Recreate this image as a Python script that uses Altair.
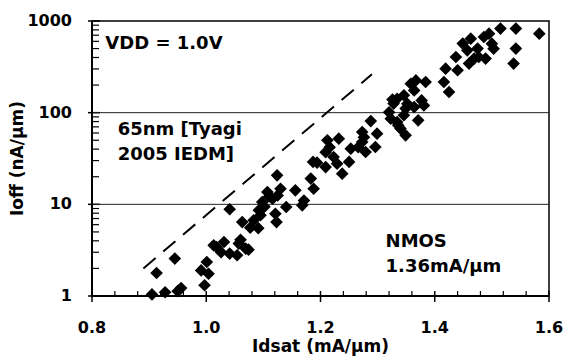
import altair as alt
import pandas as pd

# Measured devices (Idsat in mA/um, Ioff in nA/um)
idsat = [0.905, 0.913, 0.928, 0.945, 0.950, 0.956, 0.991, 0.997, 1.001, 1.004,
         1.013, 1.018, 1.026, 1.031, 1.041, 1.041, 1.054, 1.057, 1.060, 1.063,
         1.069, 1.074, 1.077, 1.083, 1.091, 1.092, 1.095, 1.098, 1.102, 1.107,
         1.110, 1.116, 1.121, 1.123, 1.124, 1.125, 1.130, 1.140, 1.156, 1.168,
         1.171, 1.183, 1.188, 1.187, 1.194,
         1.209, 1.209, 1.212, 1.216, 1.223, 1.229, 1.232, 1.238, 1.250, 1.253,
         1.266, 1.273, 1.273, 1.276, 1.279, 1.288, 1.296, 1.299,
         1.320, 1.323, 1.326, 1.328, 1.334, 1.334, 1.336, 1.340, 1.346, 1.346,
         1.349, 1.349, 1.352, 1.358, 1.364, 1.364, 1.367, 1.371, 1.377, 1.381,
         1.384,
         1.416, 1.419, 1.425, 1.437, 1.440, 1.449, 1.457, 1.460, 1.463, 1.469,
         1.475, 1.477, 1.486, 1.489, 1.495, 1.500, 1.503, 1.515, 1.538, 1.542,
         1.542, 1.583]
ioff = [1.04, 1.78, 1.10, 2.56, 1.13, 1.22, 1.90, 1.31, 2.35, 1.75,
        3.57, 3.42, 3.0, 3.88, 2.90, 8.83, 2.78, 3.73, 4.1, 6.4,
        3.29, 3.2, 5.57, 6.7, 5.5, 8.6, 7.6, 10.6, 9.4, 13.6,
        12.2, 11.5, 7.9, 6.4, 20.7, 12.5, 14.8, 9.35, 14.2, 9.76,
        11.0, 19.1, 14.8, 29.0, 28.5,
        25.5, 37.0, 50.0, 42.0, 32.8, 27.8, 52.0, 21.6, 29.0, 40.5,
        42.0, 47.9, 61.5, 54.0, 37.2, 81.0, 42.2, 59.0,
        101.0, 86.0, 139.0, 125.6, 79.0, 142.0, 72.8, 67.0, 93.6, 155.0,
        56.6, 111.0, 125.0, 207.0, 175.0, 115.0, 225.0, 82.5, 136.0, 120.0,
        216.0,
        216.0, 302.0, 168.0, 405.0, 290.0, 567.0, 479.0, 343.0, 642.0, 389.0,
        500.0, 405.0, 669.0, 389.0, 728.0, 566.0, 499.0, 826.0, 343.0, 826.0,
        500.0, 728.0]

# Dashed reference line (65nm, Tyagi 2005 IEDM)
ref_x = [0.89, 1.29]
ref_y = [2.0, 262.0]

# Annotations
note_text = ["VDD = 1.0V", "65nm [Tyagi", "2005 IEDM]", "NMOS", "1.36mA/\u00b5m"]
note_x = [0.8233, 0.8449, 0.8449, 1.3139, 1.3139]
note_y = [500.0, 56.6, 30.8, 3.42, 1.827]

# Axis titles
x_title = ["Idsat (mA/\u00b5m)"]
y_title = ["Ioff (nA/\u00b5m)"]

# Tick values
x_major = [0.8, 1.0, 1.2, 1.4, 1.6]
x_minor = [0.84, 0.88, 0.92, 0.96, 1.04, 1.08, 1.12, 1.16, 1.24, 1.28,
           1.32, 1.36, 1.44, 1.48, 1.52, 1.56]
y_major = [1, 10, 100, 1000]
y_minor = [2, 3, 4, 5, 6, 7, 8, 9, 20, 30, 40, 50, 60, 70, 80, 90,
           200, 300, 400, 500, 600, 700, 800, 900]
y_grid = [10, 100]
x_origin = [0.8]
y_origin = [1]

W, H = 457, 275
FONT = "DejaVu Sans"

pts = pd.DataFrame({"Idsat": idsat, "Ioff": ioff})
ref = pd.DataFrame({"Idsat": ref_x, "Ioff": ref_y})
notes = pd.DataFrame({"Idsat": note_x, "Ioff": note_y, "label": note_text})
xmaj = pd.DataFrame({"Idsat": x_major})
xmin = pd.DataFrame({"tx": x_minor})
xmajt = pd.DataFrame({"tx": x_major})
ymaj = pd.DataFrame({"Ioff": y_major})
ymin = pd.DataFrame({"ty": y_minor})
ymajt = pd.DataFrame({"ty": y_major})
ygrid = pd.DataFrame({"Ioff": y_grid})
xorig = pd.DataFrame({"Idsat": x_origin})
yorig = pd.DataFrame({"Ioff": y_origin})
xt = pd.DataFrame({"label": x_title})
yt = pd.DataFrame({"label": y_title})

xs = alt.Scale(domain=[0.8, 1.6], nice=False, zero=False)
ys = alt.Scale(type="log", domain=[1, 1000], nice=False)


def X(f="Idsat"):
    return alt.X(f + ":Q", scale=xs, axis=None)


def Y(f="Ioff"):
    return alt.Y(f + ":Q", scale=ys, axis=None)


# Gridlines at 10 and 100
grid = alt.Chart(ygrid).mark_rule(color="#222222", strokeWidth=1).encode(
    y=Y(), x=alt.value(0), x2=alt.value(W))

# Heavier left and bottom axis lines
left_dom = alt.Chart(xorig).mark_rule(color="black", strokeWidth=2).encode(
    x=X(), y=alt.value(0), y2=alt.value(H))
bot_dom = alt.Chart(yorig).mark_rule(color="black", strokeWidth=2).encode(
    y=Y(), x=alt.value(0), x2=alt.value(W))

# Tick marks: inward minor ticks, major ticks crossing the axis line
xmaj_t = alt.Chart(xmajt).mark_tick(color="black", thickness=1.5, size=11,
                                    orient="vertical", opacity=1).encode(
    x=X("tx"), y=alt.value(H + 0.5))
xmin_t = alt.Chart(xmin).mark_tick(color="black", thickness=1.2, size=5,
                                   orient="vertical", opacity=1).encode(
    x=X("tx"), y=alt.value(H - 2.5))
ymaj_t = alt.Chart(ymajt).mark_tick(color="black", thickness=1.5, size=12,
                                    orient="horizontal", opacity=1).encode(
    y=Y("ty"), x=alt.value(2))
ymin_t = alt.Chart(ymin).mark_tick(color="black", thickness=1.2, size=7,
                                   orient="horizontal", opacity=1).encode(
    y=Y("ty"), x=alt.value(3.5))

points = alt.Chart(pts).mark_point(shape="diamond", filled=True, size=160,
                                   color="black", opacity=1).encode(x=X(), y=Y())

line = alt.Chart(ref).mark_line(color="black", strokeWidth=2,
                                strokeDash=[16, 10]).encode(x=X(), y=Y())

text = alt.Chart(notes).mark_text(align="left", baseline="alphabetic", font=FONT,
                                  fontSize=18, fontWeight="bold", color="black").encode(
    x=X(), y=Y(), text="label:N")

# Tick labels
xlab = alt.Chart(xmaj).mark_text(align="center", baseline="top", font=FONT, fontSize=16,
                                 fontWeight="bold", color="black").encode(
    x=X(), y=alt.value(H + 24), text=alt.Text("Idsat:Q", format=".1f"))
ylab = alt.Chart(ymaj).mark_text(align="right", baseline="middle", font=FONT, fontSize=16,
                                 fontWeight="bold", color="black").encode(
    y=Y(), x=alt.value(-20), text=alt.Text("Ioff:Q", format="d"))

# Axis titles
xtitle = alt.Chart(xt).mark_text(align="center", baseline="top", font=FONT, fontSize=17,
                                 fontWeight="bold", color="black").encode(
    x=alt.value(W / 2), y=alt.value(H + 43), text="label:N")
ytitle = alt.Chart(yt).mark_text(align="center", baseline="alphabetic", angle=270, font=FONT,
                                 fontSize=17, fontWeight="bold", color="black").encode(
    x=alt.value(-69), y=alt.value(H / 2), text="label:N")

chart = alt.layer(xmaj_t, xmin_t, ymaj_t, ymin_t, grid, left_dom, bot_dom,
                  points, line, text, xlab, ylab, xtitle, ytitle).properties(
    width=W, height=H,
    autosize=alt.AutoSizeParams(type="none"),
    padding={"left": 92, "top": 21, "right": 18, "bottom": 60},
    background="white",
).configure_view(stroke="black", strokeWidth=1.5)

chart.save("out.html", embed_options={"renderer": "svg", "actions": False})
